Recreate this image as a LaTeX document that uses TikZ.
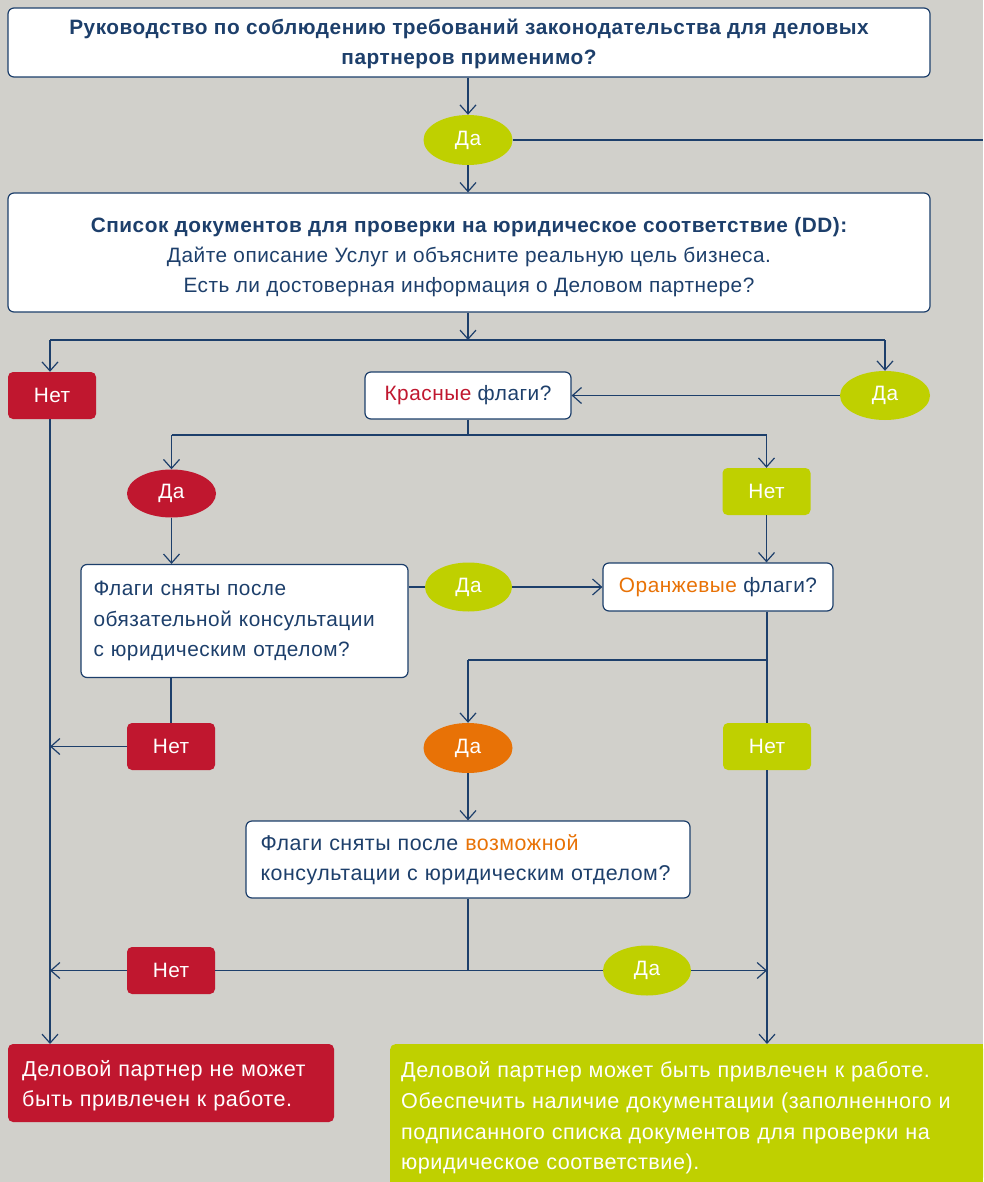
\documentclass[tikz,border=0pt]{standalone}
\usepackage{fontspec}
\setmainfont{Liberation Sans}[LetterSpace=2.5]
\usetikzlibrary{arrows.meta,shapes.geometric}
\definecolor{bg}{HTML}{D1D0CB}
\definecolor{navy}{HTML}{1D3F6B}
\definecolor{lime}{HTML}{BFD000}
\definecolor{rd}{HTML}{C0172F}
\definecolor{orng}{HTML}{E87206}
\tikzset{
  x=1pt,y=-1pt,
  every node/.style={font=\fontsize{20.8}{30}\selectfont, text=navy, inner sep=0pt},
  wbox/.style={draw=navy, line width=1.2pt, fill=white, rounded corners=6pt, align=center},
  rbox/.style={fill=rd, rounded corners=5pt, text=white, minimum width=88pt, minimum height=47pt},
  lbox/.style={fill=lime, rounded corners=5pt, text=white, minimum width=88pt, minimum height=47pt},
  lell/.style={ellipse, fill=lime, text=white, minimum width=89pt, minimum height=50pt},
  rell/.style={ellipse, fill=rd, text=white, minimum width=89pt, minimum height=48pt},
  oell/.style={ellipse, fill=orng, text=white, minimum width=89pt, minimum height=50pt},
  ln/.style={draw=navy, line width=1.3pt},
  arr/.style={ln, -{Straight Barb[length=9pt,width=16pt,line width=1.2pt]}},
}
\begin{document}
\begin{tikzpicture}
\useasboundingbox (0,0) rectangle (983,1182);
\fill[bg] (0,0) rectangle (983,1182);

\node[wbox, minimum width=922pt, minimum height=69pt] (top) at (469,42.5) {};
\node[align=center] (topt) at (469,44)
  {\bfseries Руководство по соблюдению требований законодательства для деловых\\ \bfseries партнеров применимо?};
\node[lell] (da1) at (468,140) {Да};
\node[wbox, minimum width=922pt, minimum height=119pt] (box2) at (469,252.5) {};
\node[align=center] (box2t) at (469,257)
  {\fontsize{20.8}{29.5}\selectfont\bfseries Список документов для проверки на юридическое соответствие (DD):\\
   \mdseries Дайте описание Услуг и объясните реальную цель бизнеса.\\
   Есть ли достоверная информация о Деловом партнере?};
\node[rbox] (net1) at (52,395.5) {Нет};
\node[wbox, minimum width=206pt, minimum height=47pt] (red) at (468,395.5)
  {\textcolor{rd}{Красные} флаги?};
\node[lell, minimum width=90pt, minimum height=49pt] (da2) at (885,395.5) {Да};
\node[rell] (da3) at (171.5,493.5) {Да};
\node[lbox] (net2) at (766.5,491.5) {Нет};
\node[wbox, minimum width=327pt, minimum height=113pt, align=left, text width=302pt] (box3) at (244.5,621)
  {\fontsize{20.8}{31}\selectfont Флаги сняты после\\ обязательной консультации\\ с юридическим отделом?};
\node[lell, minimum width=87pt, minimum height=49pt] (da4) at (468.5,587) {Да};
\node[wbox, minimum width=230pt, minimum height=48pt] (orange) at (718,587)
  {\textcolor{orng}{Оранжевые} флаги?};
\node[rbox] (net3) at (171,746.5) {Нет};
\node[oell] (da5) at (468,748) {Да};
\node[lbox] (net4) at (767,746.5) {Нет};
\node[wbox, minimum width=444pt, minimum height=77pt, align=left, text width=415pt] (box4) at (468,859.5)
  {\fontsize{21.4}{30}\selectfont Флаги сняты после \textcolor{orng}{возможной}\\ консультации с юридическим отделом?};
\node[rbox] (net5) at (171,970.5) {Нет};
\node[lell, minimum width=88pt, minimum height=50pt] (da6) at (647,970.5) {Да};
\node[rbox, minimum width=326pt, minimum height=78pt] (fin1) at (171,1083) {};
\node[anchor=north west, text=white, align=left, text width=310pt] (fin1t) at (22,1060)
  {\fontsize{21.6}{32}\selectfont Деловой партнер не может\\ быть привлечен к работе.};
\node[fill=lime, rounded corners=5pt, minimum width=593pt, minimum height=138pt, anchor=north west] (fin2) at (390,1044) {};
\fill[lime] (390,1172) rectangle (983,1182);
\fill[lime] (973,1044) rectangle (983,1182);
\node[anchor=north west, text=white, align=left, text width=580pt] (fin2t) at (401,1061)
  {\fontsize{21.6}{31.3}\selectfont Деловой партнер может быть привлечен к работе.\\
   Обеспечить наличие документации (заполненного и\\
   подписанного списка документов для проверки на\\
   юридическое соответствие).};

\coordinate (c1) at (983,140);
\coordinate (h1) at (468,340);
\coordinate (hl) at (50,340);
\coordinate (hr) at (885,340);
\coordinate (h2) at (468,435);
\coordinate (h2l) at (171.5,435);
\coordinate (h2r) at (766.5,435);
\coordinate (h3) at (767,660);
\coordinate (h3l) at (468,660);
\coordinate (vl) at (50,746.5);
\coordinate (vl2) at (50,970.5);
\coordinate (h4) at (468,970.5);
\coordinate (vr) at (767,970.5);
\coordinate (fin2top) at (767,1044);
\coordinate (fin1top) at (50,1044);

\draw[arr] (top.south -| da1) -- (da1);
\draw[ln] (da1) -- (c1);
\draw[arr] (da1) -- (da1 |- box2.north);
\draw[arr] (box2.south -| h1) -- (h1);
\draw[ln] (hl) -- (hr);
\draw[arr] (hl) -- (hl |- net1.north);
\draw[arr] (hr) -- (hr |- da2.north);
\draw[arr] (da2.west) -- (red.east |- da2.west);
\draw[ln] (red.south -| h2) -- (h2);
\draw[ln] (h2l) -- (h2r);
\draw[arr] (h2l) -- (h2l |- da3.north);
\draw[arr] (h2r) -- (h2r |- net2.north);
\draw[arr] (da3.south) -- (da3.south |- box3.north);
\draw[ln] (box3.east |- da4) -- (da4);
\draw[arr] (da4.east) -- (orange.west |- da4.east);
\draw[arr] (net2.south) -- (net2.south |- orange.north);
\draw[ln] (orange.south -| h3) -- (h3 |- net4.north);
\draw[ln] (h3) -- (h3l);
\draw[arr] (h3l) -- (h3l |- da5.north);
\draw[arr] (da5.south) -- (da5.south |- box4.north);
\draw[ln] (box3.south -| net3) -- (net3.north);
\draw[arr] (net3.west) -- (vl);
\draw[arr] (hl |- net1.south) -- (fin1top);
\draw[ln] (box4.south -| h4) -- (h4);
\draw[arr] (net5.west) -- (vl2);
\draw[ln] (h4) -- (net5.east);
\draw[ln] (h4) -- (da6.west);
\draw[arr] (da6.east) -- (vr);
\draw[arr] (h3 |- net4.south) -- (fin2top);
\end{tikzpicture}
\end{document}
